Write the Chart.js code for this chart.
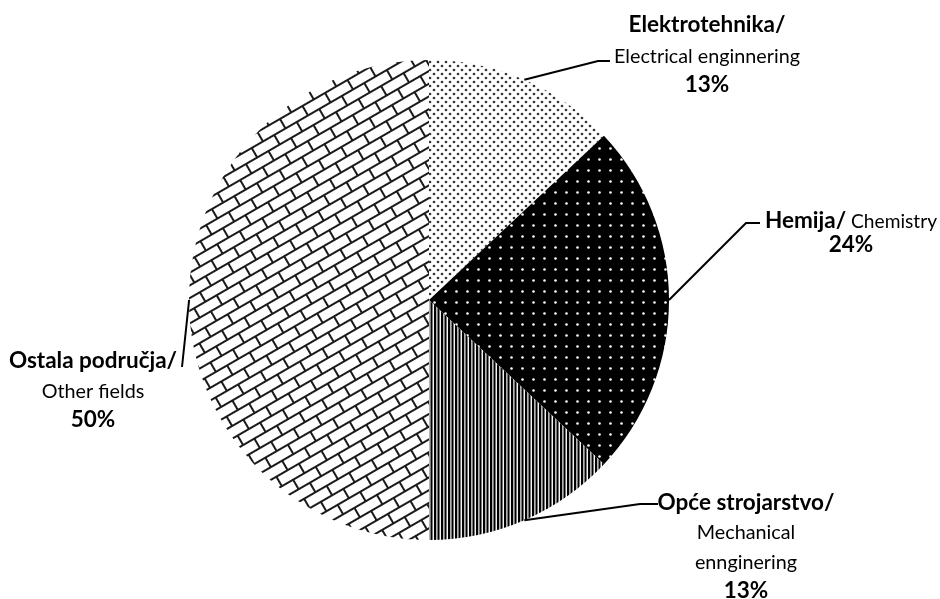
<!DOCTYPE html>
<html>
<head>
<meta charset="utf-8">
<script src="https://cdn.jsdelivr.net/npm/chart.js@4"></script>
<style>
  html, body { margin: 0; padding: 0; background: #fff; }
  #c { display: block; }
</style>
</head>
<body>
<canvas id="c" width="940" height="599"></canvas>
<script>
// ---- data ----
const categories = ['Elektrotehnika/', 'Hemija/', 'Opće strojarstvo/', 'Ostala područja/'];
const englishNames = ['Electrical enginnering', 'Chemistry', 'Mechanical ennginering', 'Other fields'];
const shares = [13, 24, 13, 50];

const FONT = 'Lato, "Open Sans", sans-serif';

// ---- fill patterns ----
function makeTile(w, h, draw) {
  const c = document.createElement('canvas');
  c.width = w; c.height = h;
  const g = c.getContext('2d');
  draw(g, w, h);
  return c;
}
function buildPatterns(ctx) {
  // fine gray dots on white (staggered)
  const dots = makeTile(8, 8, (g) => {
    g.fillStyle = '#fff'; g.fillRect(0, 0, 8, 8);
    g.fillStyle = '#333';
    [[2, 2], [6, 6]].forEach(([x, y]) => { g.beginPath(); g.arc(x, y, 1.35, 0, Math.PI * 2); g.fill(); });
  });
  // white dots on black
  const darkDots = makeTile(11, 11, (g) => {
    g.fillStyle = '#000'; g.fillRect(0, 0, 11, 11);
    g.fillStyle = '#fff';
    g.beginPath(); g.arc(5.5, 5.5, 1.3, 0, Math.PI * 2); g.fill();
  });
  // vertical stripes
  const stripes = makeTile(7, 4, (g) => {
    g.fillStyle = '#f4f4f4'; g.fillRect(0, 0, 7, 4);
    g.fillStyle = '#000'; g.fillRect(0, 0, 2, 4); g.fillRect(3.5, 0, 2, 4);
    g.fillStyle = '#777'; g.fillRect(2, 0, 0.5, 4); g.fillRect(5.5, 0, 0.5, 4);
  });
  // bricks
  const bricks = makeTile(26, 22, (g) => {
    g.fillStyle = '#fff'; g.fillRect(0, 0, 26, 22);
    g.strokeStyle = '#1a1a1a'; g.lineWidth = 2;
    g.beginPath();
    g.moveTo(0, 1); g.lineTo(26, 1);
    g.moveTo(0, 12); g.lineTo(26, 12);
    g.moveTo(1, 0); g.lineTo(1, 12);
    g.moveTo(14, 12); g.lineTo(14, 22);
    g.stroke();
  });
  const pDots = ctx.createPattern(dots, 'repeat');
  const pDark = ctx.createPattern(darkDots, 'repeat');
  const pStripes = ctx.createPattern(stripes, 'repeat');
  const pBricks = ctx.createPattern(bricks, 'repeat');
  pBricks.setTransform(new DOMMatrix().rotate(-30));
  return [pDots, pDark, pStripes, pBricks];
}

// ---- label layout (positions only) ----
const labelLayout = [
  { bend: [598, 61], end: [610, 61], cx: 707, rows: [25, 57, 85] },
  { bend: [746, 223], end: [760, 223], cx: 851, rows: [221, 245] },
  { bend: [640, 504], end: [658, 504], cx: 746, rows: [503, 533, 563, 591] },
  { bend: [189, 301], end: [182, 367], cx: 93, rows: [361, 392, 420] }
];

function fitSize(ctx, text, weight, target) {
  ctx.font = weight + ' 100px ' + FONT;
  return 100 * target / ctx.measureText(text).width;
}

const labelPlugin = {
  id: 'pieLabels',
  afterDraw(chart) {
    const ctx = chart.ctx;
    const meta = chart.getDatasetMeta(0);
    const boldSize = fitSize(ctx, 'Elektrotehnika/', 'bold', 157);
    const regSize = fitSize(ctx, 'Electrical enginnering', 'normal', 186);
    const smallSize = fitSize(ctx, 'Chemistry', 'normal', 86);
    const bold = 'bold ' + boldSize.toFixed(2) + 'px ' + FONT;
    const reg = 'normal ' + regSize.toFixed(2) + 'px ' + FONT;
    const small = 'normal ' + smallSize.toFixed(2) + 'px ' + FONT;

    ctx.save();
    meta.data.forEach((arc, i) => {
      const L = labelLayout[i];
      const mid = (arc.startAngle + arc.endAngle) / 2;
      const sx = arc.x + Math.cos(mid) * arc.outerRadius;
      const sy = arc.y + Math.sin(mid) * arc.outerRadius;
      ctx.strokeStyle = '#000';
      ctx.lineWidth = 2;
      ctx.beginPath();
      ctx.moveTo(sx, sy);
      ctx.lineTo(L.bend[0], L.bend[1]);
      ctx.lineTo(L.end[0], L.end[1]);
      ctx.stroke();

      const pct = shares[i] + '%';
      ctx.fillStyle = '#000';
      ctx.textBaseline = 'middle';
      ctx.textAlign = 'center';
      if (i === 1) {
        ctx.font = bold;
        const w1 = ctx.measureText(categories[i]).width;
        ctx.font = small;
        const w2 = ctx.measureText(' ' + englishNames[i]).width;
        const x0 = L.cx - (w1 + w2) / 2;
        ctx.textAlign = 'left';
        ctx.font = bold;
        ctx.fillText(categories[i], x0, L.rows[0]);
        ctx.font = small;
        ctx.fillText(' ' + englishNames[i], x0 + w1, L.rows[0] + 1);
        ctx.textAlign = 'center';
        ctx.font = bold;
        ctx.fillText(pct, L.cx, L.rows[1]);
      } else {
        const lines = [[categories[i], bold]];
        if (i === 2) {
          englishNames[i].split(' ').forEach(w => lines.push([w, reg]));
        } else {
          lines.push([englishNames[i], reg]);
        }
        lines.push([pct, bold]);
        lines.forEach((ln, k) => {
          ctx.font = ln[1];
          ctx.fillText(ln[0], L.cx, L.rows[k]);
        });
      }
    });
    ctx.restore();
  }
};

const canvas = document.getElementById('c');
const ctx = canvas.getContext('2d');
const patterns = buildPatterns(ctx);

new Chart(ctx, {
  type: 'pie',
  data: {
    labels: categories,
    datasets: [{
      data: shares,
      backgroundColor: patterns,
      borderWidth: 0
    }]
  },
  options: {
    responsive: false,
    animation: false,
    layout: { padding: { left: 189, right: 271, top: 60, bottom: 59 } },
    plugins: {
      legend: { display: false },
      tooltip: { enabled: false }
    }
  },
  plugins: [labelPlugin]
});
</script>
</body>
</html>
